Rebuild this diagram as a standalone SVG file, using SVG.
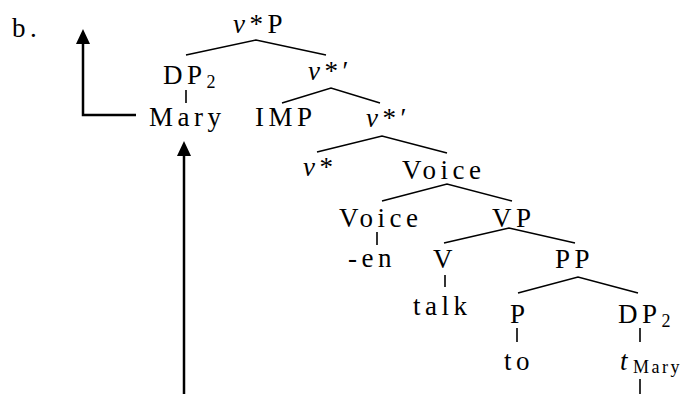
<svg xmlns="http://www.w3.org/2000/svg" width="683" height="394" viewBox="0 0 683 394">
<style>
.t{font-family:'Liberation Serif','Times New Roman',Times,serif;font-size:27px;letter-spacing:4.5px;fill:#000}
.it{font-style:italic}
.sub{font-size:18px;letter-spacing:2px}
.sm{font-size:18px;letter-spacing:2.5px}
.br{fill:none;stroke:#000;stroke-width:1.6}
.ar{fill:none;stroke:#000;stroke-width:2.5}
.head{fill:#000}
</style>
<rect width="683" height="394" fill="#fff"/>
<text class="t" x="12" y="37">b.</text>
<g id="connectors">
<polyline class="br" points="186,55 256,40 326,55"/>
<line class="br" x1="186" y1="90" x2="186" y2="103"/>
<polyline class="br" points="282,103 331,88 380,103"/>
<polyline class="br" points="317,152 382,136 447,153"/>
<polyline class="br" points="382,201 447,184 512,201"/>
<line class="br" x1="377" y1="232" x2="377" y2="245"/>
<polyline class="br" points="444,243 509,228 575,243"/>
<line class="br" x1="445" y1="275" x2="445" y2="287"/>
<polyline class="br" points="518,293 578,277 638,293"/>
<line class="br" x1="517" y1="328" x2="517" y2="342"/>
<line class="br" x1="640" y1="328" x2="640" y2="342"/>
<line class="br" x1="640" y1="379" x2="640" y2="394"/>
<polyline class="ar" points="136,115 83,115 83,43"/>
<polygon class="head" points="76,44 90,44 83,29"/>
<line class="ar" x1="184" y1="394" x2="184" y2="154"/>
<polygon class="head" points="177,156 191,156 184,141"/>
</g>
<g id="vP"><text class="t" x="233" y="33"><tspan class="it">v</tspan>*P</text></g>
<g id="DP2"><text class="t" x="163" y="84">DP<tspan class="sub" dy="4">2</tspan></text></g>
<g id="vbar1"><text class="t" x="308" y="80"><tspan class="it">v</tspan>*′</text></g>
<g id="Mary"><text class="t" x="149" y="126">Mary</text></g>
<g id="IMP"><text class="t" x="255" y="126">IMP</text></g>
<g id="vbar2"><text class="t" x="366" y="127"><tspan class="it">v</tspan>*′</text></g>
<g id="vstar"><text class="t" x="303" y="176"><tspan class="it">v</tspan>*</text></g>
<g id="VoiceP"><text class="t" x="402" y="179">Voice</text></g>
<g id="Voice"><text class="t" x="339" y="227">Voice</text></g>
<g id="VP"><text class="t" x="492" y="227">VP</text></g>
<g id="en"><text class="t" x="348" y="267">-en</text></g>
<g id="V"><text class="t" x="433" y="268">V</text></g>
<g id="PP"><text class="t" x="555" y="268">PP</text></g>
<g id="talk"><text class="t" x="413" y="315">talk</text></g>
<g id="P"><text class="t" x="510" y="323">P</text></g>
<g id="DP2b"><text class="t" x="618" y="323">DP<tspan class="sub" dy="4">2</tspan></text></g>
<g id="to"><text class="t" x="504" y="370">to</text></g>
<g id="trace"><text class="t it" x="620" y="370">t</text><text class="t sm" x="633" y="373">Mary</text></g>
</svg>
